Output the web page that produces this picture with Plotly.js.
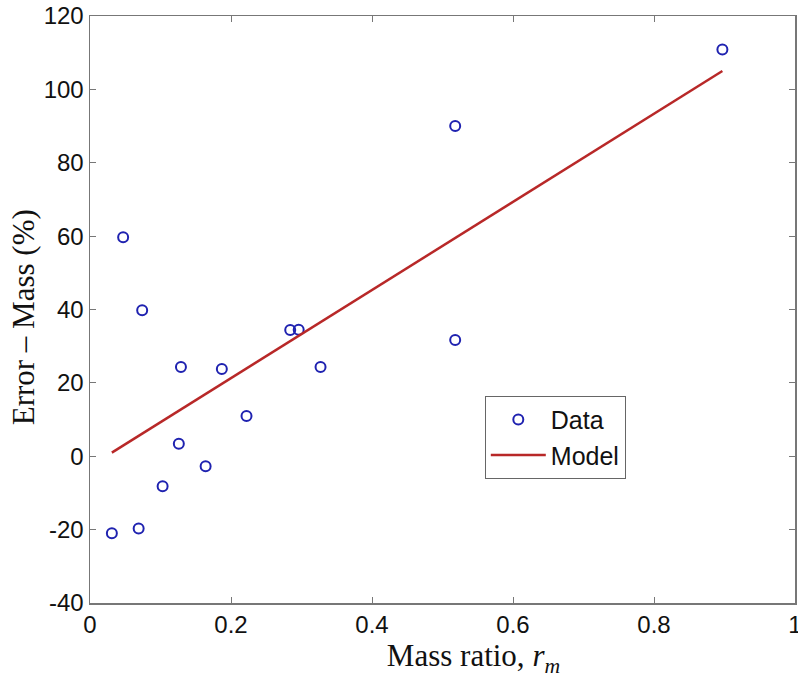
<!DOCTYPE html>
<html>
<head>
<meta charset="utf-8">
<script src="https://cdn.plot.ly/plotly-3.0.1.min.js"></script>
<style>html,body{margin:0;padding:0;background:#fff;}#chart{width:798px;height:683px;}</style>
</head>
<body>
<div id="chart"></div>
<script>
const dataX = [0.031, 0.047, 0.069, 0.074, 0.103, 0.126, 0.129, 0.164, 0.187, 0.222, 0.284, 0.296, 0.327, 0.518, 0.518, 0.897];
const dataY = [-21.0, 59.7, -19.7, 39.8, -8.2, 3.4, 24.3, -2.7, 23.8, 11.0, 34.4, 34.5, 24.3, 90.0, 31.7, 110.9];
const modelX = [0.031, 0.897];
const modelY = [1.0, 105.0];
const xTicks = [0, 0.2, 0.4, 0.6, 0.8, 1];
const xTickLabels = ['0', '0.2', '0.4', '0.6', '0.8', '1'];
const yTicks = [-40, -20, 0, 20, 40, 60, 80, 100, 120];
const yTickLabels = ['-40', '-20', '0', '20', '40', '60', '80', '100', '120'];

const traces = [
  {x: dataX, y: dataY, mode: 'markers', type: 'scatter', name: 'Data',
   marker: {symbol: 'circle-open', size: 10, color: '#1f22b0', line: {width: 2, color: '#1f22b0'}}},
  {x: modelX, y: modelY, mode: 'lines', type: 'scatter', name: 'Model',
   line: {color: '#b82828', width: 2.5}}
];

const axisCommon = {
  showgrid: false, zeroline: false, showline: true, mirror: 'ticks',
  linecolor: '#777', linewidth: 1.5, ticks: 'inside', ticklen: 6, tickcolor: '#777', tickwidth: 1,
  tickfont: {family: 'Liberation Sans, Arial, sans-serif', size: 24, color: '#111'}
};

const layout = {
  width: 798, height: 683,
  margin: {l: 90, r: 3, t: 16, b: 80},
  paper_bgcolor: '#fff', plot_bgcolor: '#fff',
  showlegend: true,
  legend: {x: 0.56, y: 0.353, xanchor: 'left', yanchor: 'top', itemwidth: 55,
    bordercolor: '#666', borderwidth: 1, bgcolor: '#fff',
    font: {family: 'Liberation Sans, Arial, sans-serif', size: 25, color: '#111'}},
  xaxis: Object.assign({}, axisCommon, {
    range: [0, 1], tickvals: xTicks, ticktext: xTickLabels, ticklabeloverflow: 'allow',
    title: {text: '&nbsp;&nbsp;&nbsp;&nbsp;&nbsp;&nbsp;&nbsp;&nbsp;Mass ratio, <i>r</i><sub><i>m</i></sub>', standoff: 6,
      font: {family: 'Liberation Serif, Times New Roman, serif', size: 31, color: '#111'}}
  }),
  yaxis: Object.assign({}, axisCommon, {
    range: [-40, 120], tickvals: yTicks, ticktext: yTickLabels,
    title: {text: 'Error – Mass (%)&nbsp;&nbsp;', standoff: 0,
      font: {family: 'Liberation Serif, Times New Roman, serif', size: 31, color: '#111'}}
  })
};

Plotly.newPlot('chart', traces, layout, {displayModeBar: false, staticPlot: true});
</script>
</body>
</html>
